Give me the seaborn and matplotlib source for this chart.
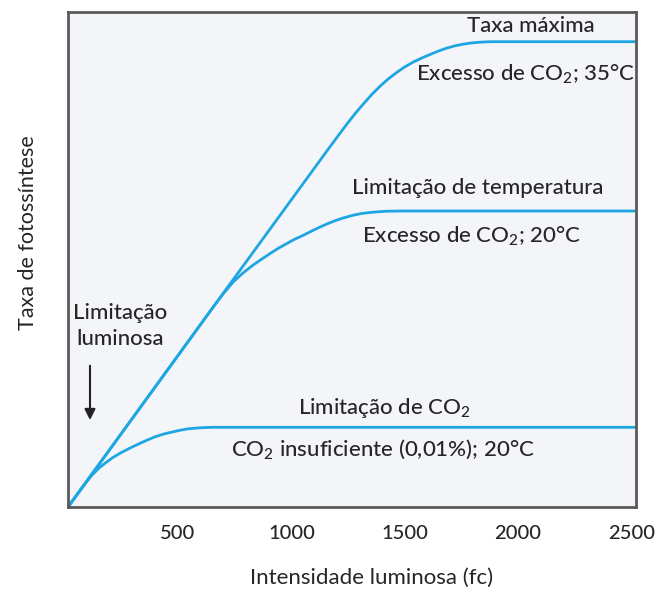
import numpy as np
import pandas as pd
import seaborn as sns
import matplotlib.pyplot as plt

# values (light intensity in fc, rate in arbitrary units 0-100)
x_top = [15, 700, 1150, 1200, 1244, 1280, 1317, 1354, 1391, 1428, 1465, 1500, 1538, 1575,
         1611, 1648, 1685, 1720, 1758, 1795, 1832, 1880, 2520]
y_top = [0, 43.2, 71.5, 74.6, 77.3, 79.4, 81.4, 83.3, 85.0, 86.5, 87.8, 88.9, 89.9, 90.7,
         91.4, 92.1, 92.7, 93.15, 93.5, 93.75, 93.9, 94.0, 94.0]

x_mid = [15, 660, 700, 744, 790, 832, 870, 906, 940, 979, 1015, 1053, 1090, 1126, 1163,
         1200, 1237, 1273, 1310, 1347, 1385, 1420, 1490, 2520]
y_mid = [0, 40.7, 43.1, 45.5, 47.4, 48.9, 50.1, 51.2, 52.2, 53.2, 54.1, 54.9, 55.75, 56.55, 57.3,
         57.95, 58.5, 58.95, 59.3, 59.5, 59.65, 59.75, 59.8, 59.8]

x_low = [15, 90, 120, 150, 180, 213, 250, 288, 325, 363, 400, 434, 470, 509, 545, 584, 620, 654, 2520]
y_low = [0, 4.7, 6.4, 7.8, 8.9, 10.0, 11.0, 11.9, 12.7, 13.5, 14.2, 14.7, 15.1, 15.5, 15.8,
         15.95, 16.05, 16.1, 16.1]

xticks = [500, 1000, 1500, 2000, 2500]
xticklabels = ["500", "1000", "1500", "2000", "2500"]

curves = pd.concat([
    pd.DataFrame({"luz": x_top, "taxa": y_top, "curva": "35C"}),
    pd.DataFrame({"luz": x_mid, "taxa": y_mid, "curva": "20C"}),
    pd.DataFrame({"luz": x_low, "taxa": y_low, "curva": "CO2"}),
])

sns.set_theme(style="white")
plt.rcParams["font.family"] = ["Lato", "DejaVu Sans"]
plt.rcParams["font.weight"] = "medium"
plt.rcParams["mathtext.fontset"] = "custom"
plt.rcParams["mathtext.rm"] = "Lato:medium"
plt.rcParams["mathtext.it"] = "Lato:italic"
plt.rcParams["mathtext.bf"] = "Lato:bold"

blue = "#1ea6e2"
txt = "#262626"

fig = plt.figure(figsize=(6.7, 5.93), dpi=100)
ax = fig.add_axes([68 / 670, 86 / 593, 568 / 670, 495 / 593])
ax.set_facecolor("#f4f5f9")

sns.lineplot(data=curves, x="luz", y="taxa", hue="curva", units="curva", estimator=None,
             palette=[blue, blue, blue], linewidth=2.0, legend=False, ax=ax, sort=False)

ax.set_xlim(15, 2520)
ax.set_ylim(0, 100)
ax.set_yticks([])
ax.set_xticks(xticks)
ax.set_xticklabels(xticklabels, fontsize=14.5, color=txt)
ax.tick_params(axis="x", direction="in", length=11, width=2, color="#555555", pad=13)
ax.xaxis.get_major_ticks()[-1].tick1line.set_visible(False)

for s in ax.spines.values():
    s.set_color("#5a5a5a")
    s.set_linewidth(2)

ax.set_xlabel("Intensidade luminosa (fc)", fontsize=16, color=txt, va="center")
ax.xaxis.set_label_coords(0.535, -0.143)
ax.set_ylabel("Taxa de fotossíntese", fontsize=15.5, color=txt, va="center")
ax.yaxis.set_label_coords(-0.07, 0.554)

fs = 16
ax.text(2057, 97.2, "Taxa máxima", ha="center", va="center", fontsize=fs, color=txt)
ax.text(2035, 87.5, r"Excesso de CO$_\mathrm{2}$; 35°C", ha="center", va="center", fontsize=fs, color=txt)
ax.text(1823, 64.4, "Limitação de temperatura", ha="center", va="center", fontsize=fs, color=txt)
ax.text(1797, 54.7, r"Excesso de CO$_\mathrm{2}$; 20°C", ha="center", va="center", fontsize=fs, color=txt)
ax.text(1409, 20.0, r"Limitação de CO$_\mathrm{2}$", ha="center", va="center", fontsize=fs, color=txt)
ax.text(1404, 11.7, r"CO$_\mathrm{2}$ insuficiente (0,01%); 20°C", ha="center", va="center", fontsize=fs, color=txt)
ax.text(244, 36.6, "Limitação\nluminosa", ha="center", va="center", fontsize=fs, color=txt, linespacing=1.35)

ax.annotate("", xy=(112, 17.0), xytext=(112, 29.1),
            arrowprops=dict(arrowstyle="-|>", color="#222222", lw=1.5, mutation_scale=16))

fig.savefig("out.png", dpi=100, facecolor="white")
